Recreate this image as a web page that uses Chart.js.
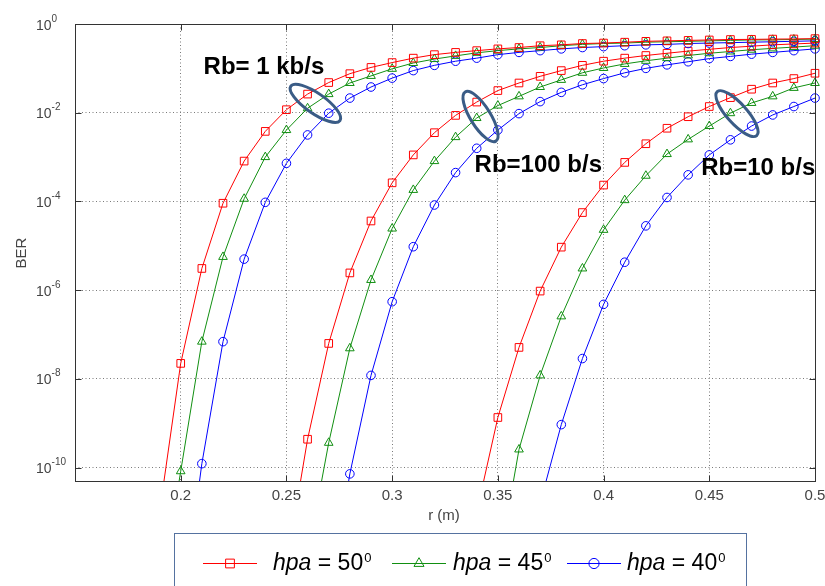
<!DOCTYPE html>
<html><head><meta charset="utf-8">
<script src="https://cdn.jsdelivr.net/npm/chart.js@4.4.1/dist/chart.umd.min.js"></script>
<style>html,body{margin:0;padding:0;background:#fff;}canvas{display:block;}</style>
</head><body>
<canvas id="c" width="825" height="586"></canvas>
<script>
// ---- data ----
const N = null;
const r = [0.19,0.20,0.21,0.22,0.23,0.24,0.25,0.26,0.27,0.28,0.29,0.30,0.31,0.32,0.33,0.34,0.35,0.36,0.37,0.38,0.39,0.40,0.41,0.42,0.43,0.44,0.45,0.46,0.47,0.48,0.49,0.50];
// Rb = 1 kb/s
const ber1k_50 = [1.0e-11,2.24e-8,3.09e-6,9.12e-5,8.13e-4,3.80e-3,1.17e-2,2.63e-2,4.79e-2,7.59e-2,0.105,0.135,0.170,0.204,0.229,0.251,0.275,0.295,0.324,0.339,0.363,0.372,0.389,0.407,0.417,0.427,0.437,0.447,0.450,0.457,0.460,0.468];
const ber1k_45 = [1e-13,8.3e-11,6.92e-8,5.62e-6,1.15e-4,1.0e-3,4.07e-3,1.26e-2,2.63e-2,4.68e-2,6.76e-2,9.77e-2,0.132,0.162,0.191,0.224,0.251,0.275,0.295,0.324,0.347,0.363,0.372,0.389,0.398,0.407,0.417,0.427,0.437,0.440,0.447,0.457];
const ber1k_40 = [N,3.2e-14,1.23e-10,6.92e-8,5.01e-6,9.55e-5,7.24e-4,3.16e-3,9.77e-3,2.14e-2,3.80e-2,6.03e-2,8.91e-2,0.117,0.145,0.170,0.204,0.229,0.251,0.275,0.295,0.309,0.324,0.339,0.347,0.363,0.372,0.380,0.389,0.398,0.407,0.417];
// Rb = 100 b/s
const ber100_50 = [N,N,N,N,N,N,6.3e-13,4.37e-10,6.31e-8,2.45e-6,3.63e-5,2.63e-4,1.12e-3,3.55e-3,8.71e-3,1.74e-2,3.16e-2,4.68e-2,6.61e-2,8.91e-2,0.117,0.145,0.170,0.195,0.219,0.245,0.269,0.295,0.316,0.339,0.355,0.372];
const ber100_45 = [N,N,N,N,N,N,N,1e-12,3.63e-10,4.90e-8,1.70e-6,2.45e-5,1.82e-4,8.13e-4,2.82e-3,7.59e-3,1.45e-2,2.34e-2,3.80e-2,5.50e-2,7.94e-2,0.102,0.126,0.148,0.170,0.195,0.219,0.240,0.263,0.282,0.302,0.324];
const ber100_40 = [N,N,N,N,N,N,N,N,1e-13,7.24e-11,1.20e-8,5.50e-7,9.55e-6,8.32e-5,4.47e-4,1.58e-3,4.07e-3,9.55e-3,1.78e-2,2.88e-2,4.27e-2,5.89e-2,7.94e-2,0.100,0.120,0.141,0.166,0.186,0.209,0.229,0.251,0.275];
// Rb = 10 b/s
const ber10_50 = [N,N,N,N,N,N,N,N,N,N,N,N,N,N,N,1e-11,1.35e-9,5.13e-8,9.55e-7,9.33e-6,5.62e-5,2.34e-4,7.59e-4,2.0e-3,4.47e-3,8.13e-3,1.38e-2,2.19e-2,3.39e-2,4.68e-2,5.89e-2,7.76e-2];
const ber10_45 = [N,N,N,N,N,N,N,N,N,N,N,N,N,N,N,N,5e-13,2.57e-10,1.20e-8,2.57e-7,3.09e-6,2.29e-5,1.07e-4,3.80e-4,1.17e-3,2.51e-3,5.01e-3,9.77e-3,1.66e-2,2.34e-2,3.63e-2,4.68e-2];
const ber10_40 = [N,N,N,N,N,N,N,N,N,N,N,N,N,N,N,N,N,N,1.58e-11,9.33e-10,2.88e-8,4.79e-7,4.27e-6,2.82e-5,1.23e-4,3.98e-4,1.12e-3,2.45e-3,5.01e-3,8.91e-3,1.38e-2,2.14e-2];

const xTicks = [0.2,0.25,0.3,0.35,0.4,0.45,0.5];
const xTickLabels = ['0.2','0.25','0.3','0.35','0.4','0.45','0.5'];
const yTickExps = [0,-2,-4,-6,-8,-10];
const hpaLabels = ['50','45','40'];
const rateLabels = ['Rb= 1 kb/s','Rb=100 b/s','Rb=10 b/s'];

// ---- styles / annotation anchors (data coords) ----
const COLORS = ['#ff0000','#118f11','#0000ff'];
const STYLES = [{pointStyle:'rect',radius:5.4},{pointStyle:'triangle',radius:5},{pointStyle:'circle',radius:4.3}];
const textAnchors = [{r:0.2108,ber:7.55e-2},{r:0.339,ber:4.71e-4},{r:0.4462,ber:3.96e-4}];
const ellipses = [
  {r:0.2637,ber:1.63e-2,a:30,b:10,rot:35},
  {r:0.3418,ber:8.2e-3,a:29,b:10,rot:58},
  {r:0.4631,ber:9.55e-3,a:29.5,b:10,rot:48}
];
const FONT = "'Liberation Sans', Arial, Helvetica, sans-serif";

const groups = [[ber1k_50,ber1k_45,ber1k_40],[ber100_50,ber100_45,ber100_40],[ber10_50,ber10_45,ber10_40]];
const datasets = [];
groups.forEach((g,gi)=>{
  g.forEach((arr,si)=>{
    const pts = [];
    r.forEach((x,i)=>{ if(arr[i]!==null) pts.push({x:x,y:arr[i]}); });
    datasets.push({
      label: 'hpa = '+hpaLabels[si],
      data: pts,
      borderColor: COLORS[si],
      backgroundColor: 'rgba(0,0,0,0)',
      pointBackgroundColor: 'rgba(0,0,0,0)',
      pointBorderColor: COLORS[si],
      pointStyle: STYLES[si].pointStyle,
      pointRadius: STYLES[si].radius,
      pointBorderWidth: 1,
      borderWidth: 1,
      tension: 0,
      clip: {left:0, top:8, right:8, bottom:0}
    });
  });
});

function marker(ctx, style, x, y, rad, color){
  ctx.save();
  ctx.strokeStyle = color; ctx.lineWidth = 1;
  ctx.beginPath();
  if(style==='rect'){ const s = rad*Math.SQRT1_2; ctx.rect(x-s,y-s,2*s,2*s); }
  else if(style==='triangle'){ ctx.moveTo(x,y-rad); ctx.lineTo(x+rad*0.866,y+rad/2); ctx.lineTo(x-rad*0.866,y+rad/2); ctx.closePath(); }
  else { ctx.arc(x,y,rad,0,Math.PI*2); }
  ctx.stroke();
  ctx.restore();
}

const deco = {
  id:'deco',
  afterDatasetsDraw(chart){
    const {ctx, scales:{x,y}} = chart;
    ctx.save();
    ctx.strokeStyle = '#3a5c86'; ctx.lineWidth = 3;
    ellipses.forEach(e=>{
      ctx.beginPath();
      ctx.ellipse(x.getPixelForValue(e.r), y.getPixelForValue(e.ber), e.a, e.b, e.rot*Math.PI/180, 0, Math.PI*2);
      ctx.stroke();
    });
    ctx.restore();
  },
  afterDraw(chart){
    const {ctx, chartArea:a, scales:{x,y}} = chart;
    ctx.save();
    const L = Math.round(a.left)+0.5, R = Math.round(a.right)+0.5, T = Math.round(a.top)+0.5, B = Math.round(a.bottom)+0.5;
    // axes box
    ctx.strokeStyle = '#333'; ctx.lineWidth = 1;
    ctx.strokeRect(L, T, R-L, B-T);
    // inward tick marks
    ctx.beginPath();
    xTicks.forEach(v=>{
      const px = Math.round(x.getPixelForValue(v))+0.5;
      ctx.moveTo(px,B); ctx.lineTo(px,B-6);
      ctx.moveTo(px,T); ctx.lineTo(px,T+6);
    });
    yTickExps.forEach(e=>{
      const py = Math.round(y.getPixelForValue(Math.pow(10,e)))+0.5;
      ctx.moveTo(L,py); ctx.lineTo(L+6,py);
      ctx.moveTo(R,py); ctx.lineTo(R-6,py);
    });
    ctx.stroke();
    // y tick labels 10^e
    ctx.fillStyle = '#444';
    ctx.textBaseline = 'alphabetic';
    yTickExps.forEach(e=>{
      const py = y.getPixelForValue(Math.pow(10,e));
      ctx.font = '14px '+FONT; ctx.textAlign = 'left';
      ctx.fillText('10', 36, py+5.5);
      const w = ctx.measureText('10').width;
      ctx.font = '10px '+FONT;
      ctx.fillText(String(e).replace('-','-'), 36+w, py-2.5);
    });
    // x tick labels
    ctx.font = '15px '+FONT; ctx.textAlign = 'center';
    xTicks.forEach((v,i)=>{ ctx.fillText(xTickLabels[i], x.getPixelForValue(v), a.bottom+19); });
    // axis titles
    ctx.fillText('r (m)', (a.left+a.right)/2 - 1, a.bottom+39);
    ctx.save();
    ctx.translate(26, 253); ctx.rotate(-Math.PI/2);
    ctx.textAlign = 'center';
    ctx.fillText('BER', 0, 0);
    ctx.restore();
    // annotation text
    ctx.fillStyle = '#000';
    ctx.font = 'bold 24px '+FONT; ctx.textAlign = 'left';
    textAnchors.forEach((t,i)=>{ ctx.fillText(rateLabels[i], x.getPixelForValue(t.r), y.getPixelForValue(t.ber)); });
    // legend
    ctx.strokeStyle = '#5572a0'; ctx.lineWidth = 1;
    ctx.strokeRect(174.5, 533.5, 572, 80);
    const items = [{lx:203, tx:273},{lx:392, tx:453},{lx:567, tx:627}];
    const ly = 563.5;
    items.forEach((it,i)=>{
      ctx.strokeStyle = COLORS[i]; ctx.lineWidth = 1;
      ctx.beginPath(); ctx.moveTo(it.lx, ly); ctx.lineTo(it.lx+54, ly); ctx.stroke();
      marker(ctx, STYLES[i].pointStyle, it.lx+27, ly, STYLES[i].radius+0.8, COLORS[i]);
      ctx.fillStyle = '#000'; ctx.textAlign = 'left';
      let cx = it.tx;
      ctx.font = 'italic 23px '+FONT;
      ctx.fillText('hpa', cx, 570); cx += ctx.measureText('hpa').width;
      ctx.font = '23px '+FONT;
      const s = ' = '+hpaLabels[i];
      ctx.fillText(s, cx, 570); cx += ctx.measureText(s).width + 1;
      ctx.font = '13px '+FONT;
      ctx.fillText('0', cx, 561.5);
    });
    ctx.restore();
  }
};

new Chart(document.getElementById('c').getContext('2d'), {
  type:'line',
  data:{datasets},
  plugins:[deco],
  options:{
    responsive:false, animation:false,
    layout:{padding:{left:0, top:24, right:10, bottom:0}},
    plugins:{legend:{display:false}, tooltip:{enabled:false}},
    scales:{
      x:{type:'linear', min:0.15, max:0.5,
        afterBuildTicks:s=>{ s.ticks = xTicks.map(v=>({value:v})); },
        afterFit:s=>{ s.height = 105; },
        ticks:{display:false},
        grid:{color:'#7a7a7a', lineWidth:1, drawTicks:false},
        border:{display:false, dash:[1,2.5]}
      },
      y:{type:'logarithmic', min:5e-11, max:1,
        afterBuildTicks:s=>{ s.ticks = yTickExps.map(e=>({value:Math.pow(10,e)})); },
        afterFit:s=>{ s.width = 75; },
        ticks:{display:false},
        grid:{color:'#7a7a7a', lineWidth:1, drawTicks:false},
        border:{display:false, dash:[1,2.5]}
      }
    }
  }
});
</script>
</body></html>
